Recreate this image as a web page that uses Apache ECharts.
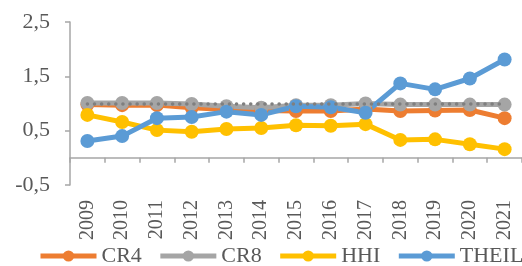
<!DOCTYPE html>
<html>
<head>
<meta charset="utf-8">
<script src="https://cdn.jsdelivr.net/npm/echarts@6/dist/echarts.min.js"></script>
<style>
html,body{margin:0;padding:0;background:#fff;}
#chart{width:522px;height:266px;}
</style>
</head>
<body>
<div id="chart"></div>
<script>
// 年份
var years = ['2009','2010','2011','2012','2013','2014','2015','2016','2017','2018','2019','2020','2021'];
// 各指标
var cr4 = [0.98, 0.97, 0.97, 0.92, 0.89, 0.87, 0.86, 0.86, 0.90, 0.86, 0.87, 0.88, 0.73];
var cr8 = [1.01, 1.01, 1.01, 0.99, 0.95, 0.92, 0.97, 0.97, 1.00, 0.98, 0.98, 0.98, 0.98];
var hhi = [0.79, 0.66, 0.51, 0.48, 0.53, 0.55, 0.60, 0.59, 0.62, 0.33, 0.34, 0.25, 0.16];
var theil = [0.31, 0.40, 0.73, 0.75, 0.85, 0.79, 0.95, 0.93, 0.83, 1.37, 1.26, 1.46, 1.81];
// 趋势线（虚线）
var trend = [0.99, 0.99, 0.99, 0.99, 0.99, 0.99, 0.99, 0.99, 0.99, 0.99, 0.99, 0.99, 0.99];
var yTicks = [-0.5, 0.5, 1.5, 2.5];

var font = '"Liberation Serif", "Times New Roman", serif';

function lineSeries(name, data, color) {
    return {
        name: name,
        type: 'line',
        data: data,
        symbol: 'circle',
        symbolSize: 14,
        color: color,
        lineStyle: {width: 5, color: color},
        itemStyle: {color: color},
        z: 3
    };
}

(function () {
    var myChart = echarts.init(document.querySelector("#chart"));
    var option = {
        animation: false,
        grid: {
            left: 70,
            top: 22,
            width: 462,
            height: 163
        },
        legend: {
            left: 38,
            top: 245,
            width: 520,
            padding: 0,
            itemWidth: 56,
            itemHeight: 14,
            itemGap: 16,
            lineStyle: {width: 5},
            data: ['CR4', 'CR8', 'HHI', 'THEIL'],
            textStyle: {fontFamily: font, fontSize: 22, lineHeight: 22, color: '#595959'}
        },
        xAxis: {
            type: 'category',
            data: years,
            boundaryGap: true,
            axisLine: {onZero: true, lineStyle: {color: '#a6a6a6', width: 1.5}},
            axisTick: {show: true, length: 5, lineStyle: {color: '#a6a6a6', width: 1.5}},
            axisLabel: {
                rotate: 90,
                margin: 15,
                fontFamily: font,
                fontSize: 20,
                lineHeight: 20,
                color: '#595959'
            },
            splitLine: {show: false}
        },
        yAxis: {
            type: 'value',
            min: -0.5,
            max: 2.5,
            axisLine: {show: true, lineStyle: {color: '#a6a6a6', width: 1.5}},
            axisTick: {show: true, length: 5, customValues: yTicks, lineStyle: {color: '#a6a6a6', width: 1.5}},
            axisLabel: {
                customValues: yTicks,
                margin: 20,
                fontFamily: font,
                fontSize: 22,
                color: '#595959',
                formatter: function (v) { return String(v).replace('.', ','); }
            },
            splitLine: {show: false}
        },
        series: [
            lineSeries('CR4', cr4, '#ED7D31'),
            lineSeries('CR8', cr8, '#A5A5A5'),
            {
                name: 'trend',
                type: 'line',
                data: trend,
                symbol: 'none',
                lineStyle: {width: 3.5, type: [0.1, 7], cap: 'round', color: '#7f7f7f'},
                z: 4
            },
            lineSeries('HHI', hhi, '#FFC000'),
            lineSeries('THEIL', theil, '#5B9BD5')
        ]
    };
    myChart.setOption(option);
})();
</script>
</body>
</html>
